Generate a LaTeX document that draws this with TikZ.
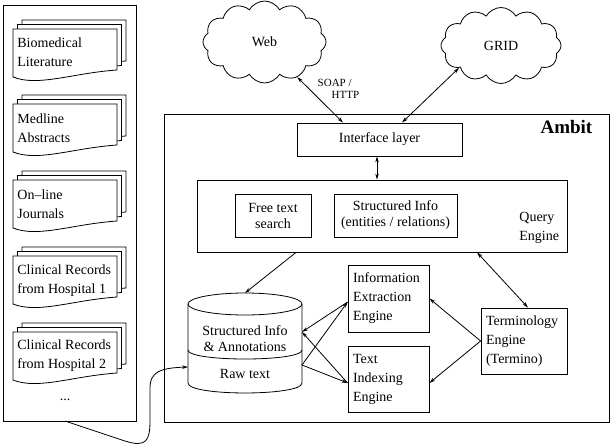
\documentclass[tikz,border=0pt]{standalone}
\usepackage{fontspec}
\setmainfont{Liberation Serif}
\usetikzlibrary{shapes.symbols,arrows.meta,calc}
\begin{document}
\begin{tikzpicture}[x=1pt,y=-1pt, line width=0.8pt,
  every node/.style={font=\fontsize{14}{19}\selectfont},
  tight/.style={font=\fontsize{14}{16}\selectfont},
  arr/.style={-{Stealth[length=6pt,width=3.5pt]}},
  darr/.style={{Stealth[length=6pt,width=3.5pt]}-{Stealth[length=6pt,width=3.5pt]}},
  plainbox/.style={draw, inner sep=0pt},
  lbox/.style={draw, inner xsep=5pt, inner ysep=0pt, align=left},
  cbox/.style={draw, inner sep=0pt, align=center, font=\fontsize{14}{16}\selectfont},
  doctext/.style={anchor=west, align=left, inner sep=0pt},
  cloudy/.style={cloud, draw, cloud puffs=12, cloud puff arc=120, cloud ignores aspect, inner sep=0pt},
  pics/docstack/.style={code={
    \foreach \o in {9,4.5,0}{
      \draw[fill=white,shift={(\o,-\o)}] (0,0) -- (104,0) -- (104,41)
        .. controls (60,44) and (25,58) .. (0,48) -- cycle;
    }
  }}
]
\useasboundingbox (0,0) rectangle (612,444);

% left panel
\node[plainbox, minimum width=133pt, minimum height=416pt] (panel) at (69.5,213) {};
\pic at (13,29) {docstack};
\node[doctext] (d1) at (17,52.5) {Biomedical\\Literature};
\pic at (13,104) {docstack};
\node[doctext] (d2) at (17,128.5) {Medline\\Abstracts};
\pic at (13,180) {docstack};
\node[doctext] (d3) at (17,204) {On--line\\Journals};
\pic at (13,256) {docstack};
\node[doctext] (d4) at (17,280.5) {Clinical Records\\from Hospital 1};
\pic at (13,332) {docstack};
\node[doctext] (d5) at (17,355.5) {Clinical Records\\from Hospital 2};
\node (dots) at (65,400) {...};

% clouds
\node[cloudy, minimum width=123pt, minimum height=82pt] (web) at (264.5,42) {Web};
\node[cloudy, minimum width=120pt, minimum height=76pt] (grid) at (501,45.5) {GRID};

% Ambit frame
\node[plainbox, minimum width=445pt, minimum height=308pt] (ambit) at (386.5,268) {};
\node[anchor=east, font=\fontsize{19}{22}\selectfont\bfseries] (ambitlbl) at (596,127) {Ambit};

% interface layer
\node[plainbox, minimum width=165pt, minimum height=33pt] (iface) at (379.5,139.5) {Interface layer};
\node[font=\fontsize{11}{12.5}\selectfont, align=left, anchor=west] (soap) at (314,89) {SOAP /\\\hspace*{14pt}HTTP};

% query engine
\node[plainbox, minimum width=370pt, minimum height=72pt] (qe) at (382,216) {};
\node[doctext] (qelbl) at (519,227.5) {Query\\Engine};
\node[cbox, minimum width=76pt, minimum height=43pt] (fts) at (273,215.5) {Free text\\search};
\node[cbox, minimum width=123pt, minimum height=43pt] (sinfo) at (395.5,215.5) {Structured Info\\(entities / relations)};

% engines
\node[lbox, minimum height=67pt, text width=71pt] (ie) at (388.5,298.5) {Information\\Extraction\\Engine};
\node[lbox, minimum height=66pt, text width=71pt] (tie) at (388.5,379) {Text\\Indexing\\Engine};
\node[lbox, minimum height=66pt, text width=76pt] (term) at (524,341) {Terminology\\Engine\\(Termino)};

% cylinder
\draw[fill=white] (188,304) -- (188,383) .. controls (188,396.3) and (302,396.3) .. (302,383) -- (302,304);
\draw (245,304) ellipse[x radius=57, y radius=11];
\draw (188,350) .. controls (188,362) and (302,362) .. (302,350);
\node[tight, align=center] (cyltext) at (245,339) {Structured Info\\\& Annotations};
\node (rawtext) at (245,374) {Raw text};
\coordinate (cylT) at (245,293);
\coordinate (siR) at (302,332);
\coordinate (rawR) at (302,365);
\coordinate (rawL) at (188,367);
\coordinate (panelB) at (65,421);

% connectors
\draw[darr] (web.-47) -- ([xshift=-36.5pt]iface.north);
\draw[darr] (grid.-152) -- ([xshift=22.5pt]iface.north);
\draw[darr] ([xshift=-2.5pt]iface.south) -- ([xshift=-5pt]qe.north);
\draw[arr] ([xshift=-86pt]qe.south) -- (cylT);
\draw[darr] ([xshift=95pt]qe.south) -- ([xshift=4pt]term.north);
\draw[arr] (term.west) -- (ie.east);
\draw[arr] (term.west) -- ([yshift=-4pt]tie.east);
\draw[arr] (rawR) -- ([yshift=-3.5pt]ie.west);
\draw[arr] ([yshift=-3.5pt]ie.west) -- (siR);
\draw[arr] (rawR) -- ([yshift=-4pt]tie.west);
\draw[arr] ([yshift=-4pt]tie.west) -- (siR);
\draw[arr] (panelB) -- (125,441) .. controls (147,448) and (150,440) .. (150,420)
  -- (150,388) .. controls (150,372) and (160,368) .. (rawL);
\end{tikzpicture}
\end{document}
